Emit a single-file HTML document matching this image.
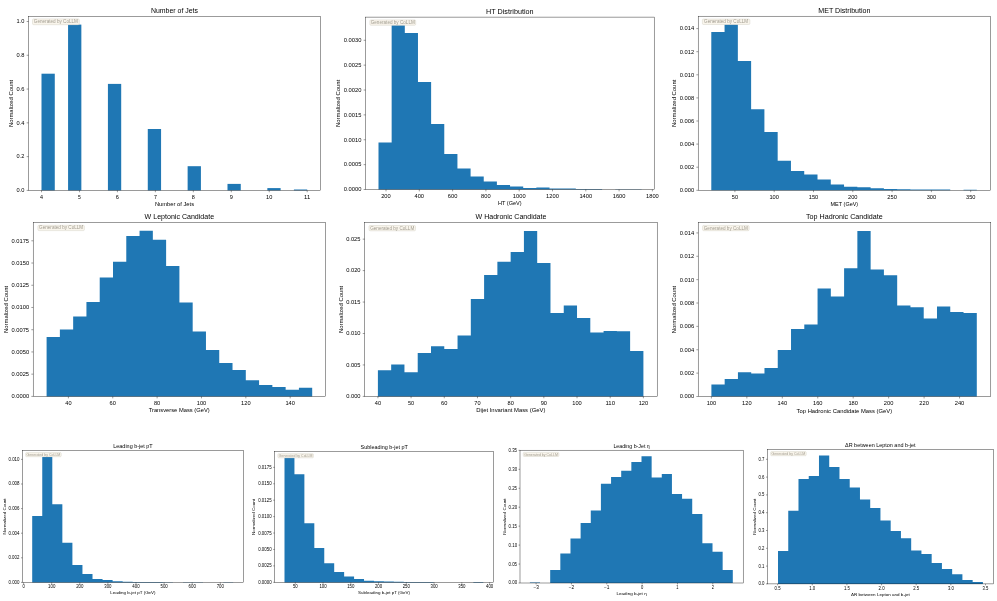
<!DOCTYPE html>
<html><head><meta charset="utf-8"><title>Histograms</title>
<style>html,body{margin:0;padding:0;background:#fff;}svg{display:block;}text{font-family:"Liberation Sans",sans-serif;}</style>
</head><body>
<svg width="997" height="601" viewBox="0 0 997 601">
<rect width="997" height="601" fill="#fff"/>
<rect x="41.50" y="73.70" width="13.28" height="116.70" fill="#1f77b4"/>
<rect x="68.07" y="24.60" width="13.28" height="165.80" fill="#1f77b4"/>
<rect x="107.92" y="83.90" width="13.28" height="106.50" fill="#1f77b4"/>
<rect x="147.78" y="129.00" width="13.29" height="61.40" fill="#1f77b4"/>
<rect x="187.63" y="166.20" width="13.29" height="24.20" fill="#1f77b4"/>
<rect x="227.49" y="183.90" width="13.28" height="6.50" fill="#1f77b4"/>
<rect x="267.34" y="188.10" width="13.29" height="2.30" fill="#1f77b4"/>
<rect x="293.91" y="189.50" width="13.29" height="0.90" fill="#1f77b4"/>
<rect x="32.50" y="18.90" width="46.80" height="5.80" rx="1.16" fill="#f9f5ec" stroke="#d3cfc5" stroke-width="0.45"/>
<rect x="28.50" y="16.50" width="292.00" height="173.90" fill="none" stroke="#111" stroke-width="0.42"/>
<path d="M41.50,190.40v1.85 M79.46,190.40v1.85 M117.41,190.40v1.85 M155.37,190.40v1.85 M193.33,190.40v1.85 M231.29,190.40v1.85 M269.24,190.40v1.85 M307.20,190.40v1.85 M28.50,190.40h-1.85 M28.50,156.62h-1.85 M28.50,122.84h-1.85 M28.50,89.06h-1.85 M28.50,55.28h-1.85 M28.50,21.50h-1.85" stroke="#111" stroke-width="0.42" fill="none"/>
<path d="M378.50,189.50 L378.50,142.40 L391.65,142.40 L391.65,25.30 L404.81,25.30 L404.81,33.00 L417.97,33.00 L417.97,82.00 L431.12,82.00 L431.12,124.00 L444.27,124.00 L444.27,154.00 L457.43,154.00 L457.43,168.60 L470.59,168.60 L470.59,176.60 L483.74,176.60 L483.74,181.60 L496.89,181.60 L496.89,185.00 L510.05,185.00 L510.05,186.50 L523.21,186.50 L523.21,188.10 L536.36,188.10 L536.36,187.60 L549.51,187.60 L549.51,188.60 L562.67,188.60 L562.67,188.60 L575.83,188.60 L575.83,189.00 L588.98,189.00 L588.98,189.10 L602.13,189.10 L602.13,189.50 L615.29,189.50 L615.29,189.20 L628.45,189.20 L628.45,189.20 L641.60,189.20 L641.60,189.50 Z" fill="#1f77b4"/>
<rect x="369.90" y="19.90" width="45.80" height="5.40" rx="1.08" fill="#f9f5ec" stroke="#d3cfc5" stroke-width="0.45"/>
<rect x="365.50" y="17.10" width="288.70" height="172.40" fill="none" stroke="#111" stroke-width="0.42"/>
<path d="M386.00,189.50v1.85 M419.30,189.50v1.85 M452.60,189.50v1.85 M485.90,189.50v1.85 M519.20,189.50v1.85 M552.50,189.50v1.85 M585.80,189.50v1.85 M619.10,189.50v1.85 M652.40,189.50v1.85 M365.50,189.50h-1.85 M365.50,164.63h-1.85 M365.50,139.76h-1.85 M365.50,114.89h-1.85 M365.50,90.02h-1.85 M365.50,65.15h-1.85 M365.50,40.28h-1.85" stroke="#111" stroke-width="0.42" fill="none"/>
<path d="M711.30,190.30 L711.30,32.00 L724.57,32.00 L724.57,24.60 L737.85,24.60 L737.85,61.10 L751.12,61.10 L751.12,109.20 L764.40,109.20 L764.40,132.00 L777.67,132.00 L777.67,160.70 L790.95,160.70 L790.95,171.00 L804.22,171.00 L804.22,174.50 L817.50,174.50 L817.50,179.50 L830.77,179.50 L830.77,184.50 L844.05,184.50 L844.05,186.70 L857.32,186.70 L857.32,187.20 L870.60,187.20 L870.60,188.30 L883.88,188.30 L883.88,189.00 L897.15,189.00 L897.15,189.30 L910.42,189.30 L910.42,189.50 L923.70,189.50 L923.70,189.50 L936.97,189.50 L936.97,189.60 L950.25,189.60 L950.25,190.30 L963.52,190.30 L963.52,189.70 L976.80,189.70 L976.80,190.30 Z" fill="#1f77b4"/>
<rect x="702.40" y="19.10" width="47.50" height="5.40" rx="1.08" fill="#f9f5ec" stroke="#d3cfc5" stroke-width="0.45"/>
<rect x="698.20" y="16.20" width="292.40" height="174.10" fill="none" stroke="#111" stroke-width="0.42"/>
<path d="M734.90,190.30v1.85 M774.20,190.30v1.85 M813.50,190.30v1.85 M852.80,190.30v1.85 M892.10,190.30v1.85 M931.40,190.30v1.85 M970.70,190.30v1.85 M698.20,190.30h-1.85 M698.20,167.20h-1.85 M698.20,144.10h-1.85 M698.20,121.00h-1.85 M698.20,97.90h-1.85 M698.20,74.80h-1.85 M698.20,51.70h-1.85 M698.20,28.60h-1.85" stroke="#111" stroke-width="0.42" fill="none"/>
<path d="M46.60,396.50 L46.60,337.10 L59.88,337.10 L59.88,329.60 L73.16,329.60 L73.16,316.40 L86.44,316.40 L86.44,302.10 L99.72,302.10 L99.72,277.50 L113.00,277.50 L113.00,261.70 L126.28,261.70 L126.28,236.10 L139.56,236.10 L139.56,230.80 L152.84,230.80 L152.84,239.80 L166.12,239.80 L166.12,265.90 L179.40,265.90 L179.40,302.60 L192.68,302.60 L192.68,331.60 L205.96,331.60 L205.96,349.90 L219.24,349.90 L219.24,362.90 L232.52,362.90 L232.52,369.90 L245.80,369.90 L245.80,380.30 L259.08,380.30 L259.08,384.90 L272.36,384.90 L272.36,386.90 L285.64,386.90 L285.64,389.70 L298.92,389.70 L298.92,387.70 L312.20,387.70 L312.20,396.50 Z" fill="#1f77b4"/>
<rect x="37.90" y="225.30" width="46.50" height="5.30" rx="1.06" fill="#f9f5ec" stroke="#d3cfc5" stroke-width="0.45"/>
<rect x="33.20" y="222.30" width="292.20" height="174.20" fill="none" stroke="#111" stroke-width="0.42"/>
<path d="M68.40,396.50v1.85 M112.76,396.50v1.85 M157.12,396.50v1.85 M201.48,396.50v1.85 M245.84,396.50v1.85 M290.20,396.50v1.85 M33.20,396.40h-1.85 M33.20,374.17h-1.85 M33.20,351.94h-1.85 M33.20,329.71h-1.85 M33.20,307.48h-1.85 M33.20,285.25h-1.85 M33.20,263.02h-1.85 M33.20,240.79h-1.85" stroke="#111" stroke-width="0.42" fill="none"/>
<path d="M377.90,396.40 L377.90,370.20 L391.17,370.20 L391.17,364.50 L404.45,364.50 L404.45,372.20 L417.72,372.20 L417.72,353.00 L431.00,353.00 L431.00,346.20 L444.27,346.20 L444.27,349.00 L457.55,349.00 L457.55,335.60 L470.82,335.60 L470.82,299.00 L484.10,299.00 L484.10,275.10 L497.38,275.10 L497.38,261.70 L510.65,261.70 L510.65,252.00 L523.92,252.00 L523.92,231.00 L537.20,231.00 L537.20,263.00 L550.48,263.00 L550.48,313.00 L563.75,313.00 L563.75,305.50 L577.02,305.50 L577.02,317.90 L590.30,317.90 L590.30,332.50 L603.58,332.50 L603.58,330.90 L616.85,330.90 L616.85,331.30 L630.12,331.30 L630.12,350.90 L643.40,350.90 L643.40,396.40 Z" fill="#1f77b4"/>
<rect x="369.00" y="225.50" width="46.50" height="5.30" rx="1.06" fill="#f9f5ec" stroke="#d3cfc5" stroke-width="0.45"/>
<rect x="364.60" y="222.50" width="292.60" height="173.90" fill="none" stroke="#111" stroke-width="0.42"/>
<path d="M377.90,396.40v1.85 M411.09,396.40v1.85 M444.27,396.40v1.85 M477.46,396.40v1.85 M510.65,396.40v1.85 M543.84,396.40v1.85 M577.02,396.40v1.85 M610.21,396.40v1.85 M643.40,396.40v1.85 M364.60,396.40h-1.85 M364.60,364.95h-1.85 M364.60,333.50h-1.85 M364.60,302.05h-1.85 M364.60,270.60h-1.85 M364.60,239.15h-1.85" stroke="#111" stroke-width="0.42" fill="none"/>
<path d="M711.40,396.60 L711.40,384.50 L724.67,384.50 L724.67,378.90 L737.94,378.90 L737.94,372.30 L751.21,372.30 L751.21,373.50 L764.48,373.50 L764.48,367.90 L777.75,367.90 L777.75,349.90 L791.02,349.90 L791.02,329.00 L804.29,329.00 L804.29,324.40 L817.56,324.40 L817.56,288.40 L830.83,288.40 L830.83,296.50 L844.10,296.50 L844.10,268.30 L857.37,268.30 L857.37,231.00 L870.64,231.00 L870.64,269.50 L883.91,269.50 L883.91,275.30 L897.18,275.30 L897.18,305.50 L910.45,305.50 L910.45,307.30 L923.72,307.30 L923.72,318.50 L936.99,318.50 L936.99,306.50 L950.26,306.50 L950.26,311.90 L963.53,311.90 L963.53,313.10 L976.80,313.10 L976.80,396.60 Z" fill="#1f77b4"/>
<rect x="702.60" y="225.40" width="46.50" height="5.30" rx="1.06" fill="#f9f5ec" stroke="#d3cfc5" stroke-width="0.45"/>
<rect x="698.20" y="222.40" width="292.60" height="174.20" fill="none" stroke="#111" stroke-width="0.42"/>
<path d="M711.40,396.60v1.85 M746.85,396.60v1.85 M782.30,396.60v1.85 M817.75,396.60v1.85 M853.20,396.60v1.85 M888.65,396.60v1.85 M924.10,396.60v1.85 M959.55,396.60v1.85 M698.20,396.50h-1.85 M698.20,373.13h-1.85 M698.20,349.76h-1.85 M698.20,326.39h-1.85 M698.20,303.02h-1.85 M698.20,279.65h-1.85 M698.20,256.28h-1.85 M698.20,232.91h-1.85" stroke="#111" stroke-width="0.42" fill="none"/>
<path d="M32.20,582.50 L32.20,516.00 L42.25,516.00 L42.25,456.90 L52.30,456.90 L52.30,504.20 L62.35,504.20 L62.35,542.80 L72.40,542.80 L72.40,565.00 L82.45,565.00 L82.45,574.10 L92.50,574.10 L92.50,578.90 L102.55,578.90 L102.55,580.10 L112.60,580.10 L112.60,581.30 L122.65,581.30 L122.65,581.80 L132.70,581.80 L132.70,581.90 L142.75,581.90 L142.75,582.00 L152.80,582.00 L152.80,582.10 L162.85,582.10 L162.85,582.20 L172.90,582.20 L172.90,582.50 L182.95,582.50 L182.95,582.20 L193.00,582.20 L193.00,582.30 L203.05,582.30 L203.05,582.50 L213.10,582.50 L213.10,582.50 L223.15,582.50 L223.15,582.30 L233.20,582.30 L233.20,582.50 Z" fill="#1f77b4"/>
<rect x="25.70" y="452.60" width="35.50" height="4.10" rx="0.82" fill="#f9f5ec" stroke="#d3cfc5" stroke-width="0.45"/>
<rect x="22.40" y="450.40" width="221.00" height="132.10" fill="none" stroke="#111" stroke-width="0.42"/>
<path d="M23.60,582.50v1.41 M51.70,582.50v1.41 M79.80,582.50v1.41 M107.90,582.50v1.41 M136.00,582.50v1.41 M164.10,582.50v1.41 M192.20,582.50v1.41 M220.30,582.50v1.41 M22.40,582.40h-1.41 M22.40,557.80h-1.41 M22.40,533.20h-1.41 M22.40,508.60h-1.41 M22.40,484.00h-1.41 M22.40,459.40h-1.41" stroke="#111" stroke-width="0.42" fill="none"/>
<path d="M284.50,582.40 L284.50,457.70 L294.44,457.70 L294.44,474.30 L304.38,474.30 L304.38,523.20 L314.32,523.20 L314.32,547.90 L324.26,547.90 L324.26,563.20 L334.20,563.20 L334.20,571.90 L344.14,571.90 L344.14,576.60 L354.08,576.60 L354.08,579.00 L364.02,579.00 L364.02,580.70 L373.96,580.70 L373.96,581.20 L383.90,581.20 L383.90,581.50 L393.84,581.50 L393.84,581.80 L403.78,581.80 L403.78,581.90 L413.72,581.90 L413.72,582.00 L423.66,582.00 L423.66,582.10 L433.60,582.10 L433.60,582.40 L443.54,582.40 L443.54,582.40 L453.48,582.40 L453.48,582.40 L463.42,582.40 L463.42,582.40 L473.36,582.40 L473.36,582.10 L483.30,582.10 L483.30,582.40 Z" fill="#1f77b4"/>
<rect x="277.90" y="453.70" width="35.50" height="4.10" rx="0.82" fill="#f9f5ec" stroke="#d3cfc5" stroke-width="0.45"/>
<rect x="274.60" y="451.50" width="219.00" height="130.90" fill="none" stroke="#111" stroke-width="0.42"/>
<path d="M295.30,582.40v1.41 M323.06,582.40v1.41 M350.81,582.40v1.41 M378.57,582.40v1.41 M406.33,582.40v1.41 M434.09,582.40v1.41 M461.84,582.40v1.41 M489.60,582.40v1.41 M274.60,582.30h-1.41 M274.60,565.88h-1.41 M274.60,549.46h-1.41 M274.60,533.04h-1.41 M274.60,516.62h-1.41 M274.60,500.20h-1.41 M274.60,483.78h-1.41 M274.60,467.36h-1.41" stroke="#111" stroke-width="0.42" fill="none"/>
<path d="M529.90,583.00 L529.90,582.50 L540.04,582.50 L540.04,583.00 L550.19,583.00 L550.19,570.10 L560.33,570.10 L560.33,553.40 L570.48,553.40 L570.48,538.50 L580.62,538.50 L580.62,523.00 L590.77,523.00 L590.77,510.60 L600.91,510.60 L600.91,483.80 L611.06,483.80 L611.06,477.10 L621.20,477.10 L621.20,470.80 L631.35,470.80 L631.35,462.10 L641.50,462.10 L641.50,456.30 L651.64,456.30 L651.64,477.40 L661.78,477.40 L661.78,474.10 L671.93,474.10 L671.93,494.10 L682.07,494.10 L682.07,498.70 L692.22,498.70 L692.22,514.00 L702.37,514.00 L702.37,543.20 L712.51,543.20 L712.51,551.80 L722.65,551.80 L722.65,570.10 L732.80,570.10 L732.80,583.00 Z" fill="#1f77b4"/>
<rect x="523.30" y="452.40" width="35.50" height="4.10" rx="0.82" fill="#f9f5ec" stroke="#d3cfc5" stroke-width="0.45"/>
<rect x="520.00" y="450.20" width="223.20" height="132.80" fill="none" stroke="#111" stroke-width="0.42"/>
<path d="M536.10,583.00v1.41 M571.44,583.00v1.41 M606.78,583.00v1.41 M642.12,583.00v1.41 M677.46,583.00v1.41 M712.80,583.00v1.41 M520.00,583.00h-1.41 M520.00,564.05h-1.41 M520.00,545.10h-1.41 M520.00,526.15h-1.41 M520.00,507.20h-1.41 M520.00,488.25h-1.41 M520.00,469.30h-1.41 M520.00,450.35h-1.41" stroke="#111" stroke-width="0.42" fill="none"/>
<path d="M778.00,583.90 L778.00,550.90 L788.25,550.90 L788.25,510.80 L798.49,510.80 L798.49,479.00 L808.74,479.00 L808.74,475.90 L818.98,475.90 L818.98,455.60 L829.23,455.60 L829.23,467.00 L839.47,467.00 L839.47,479.00 L849.72,479.00 L849.72,487.50 L859.96,487.50 L859.96,499.60 L870.21,499.60 L870.21,507.90 L880.45,507.90 L880.45,520.40 L890.69,520.40 L890.69,530.90 L900.94,530.90 L900.94,538.30 L911.18,538.30 L911.18,550.40 L921.43,550.40 L921.43,553.90 L931.67,553.90 L931.67,563.00 L941.92,563.00 L941.92,569.00 L952.16,569.00 L952.16,574.30 L962.41,574.30 L962.41,579.90 L972.65,579.90 L972.65,581.90 L982.90,581.90 L982.90,583.90 Z" fill="#1f77b4"/>
<rect x="770.70" y="451.60" width="35.50" height="4.10" rx="0.82" fill="#f9f5ec" stroke="#d3cfc5" stroke-width="0.45"/>
<rect x="767.40" y="449.40" width="226.00" height="134.50" fill="none" stroke="#111" stroke-width="0.42"/>
<path d="M777.60,583.90v1.41 M812.25,583.90v1.41 M846.90,583.90v1.41 M881.55,583.90v1.41 M916.20,583.90v1.41 M950.85,583.90v1.41 M985.50,583.90v1.41 M767.40,583.90h-1.41 M767.40,566.10h-1.41 M767.40,548.30h-1.41 M767.40,530.50h-1.41 M767.40,512.70h-1.41 M767.40,494.90h-1.41 M767.40,477.10h-1.41 M767.40,459.30h-1.41" stroke="#111" stroke-width="0.42" fill="none"/>
<g style="will-change:transform">
<text x="33.83" y="23.32" font-size="4.45" textLength="44.10" lengthAdjust="spacingAndGlyphs" fill="#a19c90" stroke="none">Generated by CoLLM</text>
<text x="40.00" y="198.61" font-size="5.79" textLength="3.00" lengthAdjust="spacingAndGlyphs" fill="#000">4</text>
<text x="78.02" y="198.61" font-size="5.79" textLength="2.83" lengthAdjust="spacingAndGlyphs" fill="#000">5</text>
<text x="115.86" y="198.61" font-size="5.79" textLength="3.11" lengthAdjust="spacingAndGlyphs" fill="#000">6</text>
<text x="153.89" y="198.61" font-size="5.79" textLength="2.94" lengthAdjust="spacingAndGlyphs" fill="#000">7</text>
<text x="191.81" y="198.61" font-size="5.79" textLength="3.03" lengthAdjust="spacingAndGlyphs" fill="#000">8</text>
<text x="229.72" y="198.61" font-size="5.79" textLength="3.10" lengthAdjust="spacingAndGlyphs" fill="#000">9</text>
<text x="266.12" y="198.61" font-size="5.79" textLength="6.26" lengthAdjust="spacingAndGlyphs" fill="#000">10</text>
<text x="304.08" y="198.61" font-size="5.79" textLength="6.17" lengthAdjust="spacingAndGlyphs" fill="#000">11</text>
<text x="16.57" y="192.25" font-size="5.79" textLength="7.91" lengthAdjust="spacingAndGlyphs" fill="#000">0.0</text>
<text x="16.57" y="158.47" font-size="5.79" textLength="7.79" lengthAdjust="spacingAndGlyphs" fill="#000">0.2</text>
<text x="16.57" y="124.69" font-size="5.79" textLength="7.91" lengthAdjust="spacingAndGlyphs" fill="#000">0.4</text>
<text x="16.57" y="90.91" font-size="5.79" textLength="7.96" lengthAdjust="spacingAndGlyphs" fill="#000">0.6</text>
<text x="16.57" y="57.13" font-size="5.79" textLength="7.92" lengthAdjust="spacingAndGlyphs" fill="#000">0.8</text>
<text x="16.58" y="23.35" font-size="5.79" textLength="7.89" lengthAdjust="spacingAndGlyphs" fill="#000">1.0</text>
<text x="150.99" y="13.33" font-size="6.68" textLength="47.01" lengthAdjust="spacingAndGlyphs" fill="#000">Number of Jets</text>
<text x="154.91" y="206.33" font-size="5.57" textLength="39.17" lengthAdjust="spacingAndGlyphs" fill="#000">Number of Jets</text>
<text x="-10.45" y="103.45" font-size="5.57" textLength="47.26" lengthAdjust="spacingAndGlyphs" fill="#000" transform="rotate(-90 13.20 103.45)">Normalized Count</text>
<text x="370.73" y="24.12" font-size="4.45" textLength="44.10" lengthAdjust="spacingAndGlyphs" fill="#a19c90" stroke="none">Generated by CoLLM</text>
<text x="381.20" y="197.71" font-size="5.79" textLength="9.57" lengthAdjust="spacingAndGlyphs" fill="#000">200</text>
<text x="414.53" y="197.71" font-size="5.79" textLength="9.54" lengthAdjust="spacingAndGlyphs" fill="#000">400</text>
<text x="447.78" y="197.71" font-size="5.79" textLength="9.59" lengthAdjust="spacingAndGlyphs" fill="#000">600</text>
<text x="481.11" y="197.71" font-size="5.79" textLength="9.56" lengthAdjust="spacingAndGlyphs" fill="#000">800</text>
<text x="512.81" y="197.71" font-size="5.79" textLength="12.79" lengthAdjust="spacingAndGlyphs" fill="#000">1000</text>
<text x="546.11" y="197.71" font-size="5.79" textLength="12.79" lengthAdjust="spacingAndGlyphs" fill="#000">1200</text>
<text x="579.41" y="197.71" font-size="5.79" textLength="12.79" lengthAdjust="spacingAndGlyphs" fill="#000">1400</text>
<text x="612.71" y="197.71" font-size="5.79" textLength="12.79" lengthAdjust="spacingAndGlyphs" fill="#000">1600</text>
<text x="646.01" y="197.71" font-size="5.79" textLength="12.79" lengthAdjust="spacingAndGlyphs" fill="#000">1800</text>
<text x="343.79" y="191.35" font-size="5.79" textLength="17.69" lengthAdjust="spacingAndGlyphs" fill="#000">0.0000</text>
<text x="343.79" y="166.48" font-size="5.79" textLength="17.59" lengthAdjust="spacingAndGlyphs" fill="#000">0.0005</text>
<text x="343.79" y="141.61" font-size="5.79" textLength="17.69" lengthAdjust="spacingAndGlyphs" fill="#000">0.0010</text>
<text x="343.79" y="116.74" font-size="5.79" textLength="17.59" lengthAdjust="spacingAndGlyphs" fill="#000">0.0015</text>
<text x="343.79" y="91.87" font-size="5.79" textLength="17.69" lengthAdjust="spacingAndGlyphs" fill="#000">0.0020</text>
<text x="343.79" y="67.00" font-size="5.79" textLength="17.59" lengthAdjust="spacingAndGlyphs" fill="#000">0.0025</text>
<text x="343.79" y="42.13" font-size="5.79" textLength="17.69" lengthAdjust="spacingAndGlyphs" fill="#000">0.0030</text>
<text x="486.09" y="13.93" font-size="6.68" textLength="47.49" lengthAdjust="spacingAndGlyphs" fill="#000">HT Distribution</text>
<text x="497.94" y="205.43" font-size="5.57" textLength="23.76" lengthAdjust="spacingAndGlyphs" fill="#000">HT (GeV)</text>
<text x="316.48" y="103.30" font-size="5.57" textLength="47.26" lengthAdjust="spacingAndGlyphs" fill="#000" transform="rotate(-90 340.13 103.30)">Normalized Count</text>
<text x="704.08" y="23.32" font-size="4.45" textLength="44.10" lengthAdjust="spacingAndGlyphs" fill="#a19c90" stroke="none">Generated by CoLLM</text>
<text x="731.81" y="198.51" font-size="5.79" textLength="6.22" lengthAdjust="spacingAndGlyphs" fill="#000">50</text>
<text x="769.45" y="198.51" font-size="5.79" textLength="9.53" lengthAdjust="spacingAndGlyphs" fill="#000">100</text>
<text x="808.75" y="198.51" font-size="5.79" textLength="9.53" lengthAdjust="spacingAndGlyphs" fill="#000">150</text>
<text x="848.00" y="198.51" font-size="5.79" textLength="9.57" lengthAdjust="spacingAndGlyphs" fill="#000">200</text>
<text x="887.30" y="198.51" font-size="5.79" textLength="9.57" lengthAdjust="spacingAndGlyphs" fill="#000">250</text>
<text x="926.69" y="198.51" font-size="5.79" textLength="9.48" lengthAdjust="spacingAndGlyphs" fill="#000">300</text>
<text x="965.99" y="198.51" font-size="5.79" textLength="9.48" lengthAdjust="spacingAndGlyphs" fill="#000">350</text>
<text x="679.75" y="192.15" font-size="5.79" textLength="14.43" lengthAdjust="spacingAndGlyphs" fill="#000">0.000</text>
<text x="679.75" y="169.05" font-size="5.79" textLength="14.32" lengthAdjust="spacingAndGlyphs" fill="#000">0.002</text>
<text x="679.75" y="145.95" font-size="5.79" textLength="14.43" lengthAdjust="spacingAndGlyphs" fill="#000">0.004</text>
<text x="679.75" y="122.85" font-size="5.79" textLength="14.48" lengthAdjust="spacingAndGlyphs" fill="#000">0.006</text>
<text x="679.75" y="99.75" font-size="5.79" textLength="14.44" lengthAdjust="spacingAndGlyphs" fill="#000">0.008</text>
<text x="679.75" y="76.65" font-size="5.79" textLength="14.43" lengthAdjust="spacingAndGlyphs" fill="#000">0.010</text>
<text x="679.75" y="53.55" font-size="5.79" textLength="14.32" lengthAdjust="spacingAndGlyphs" fill="#000">0.012</text>
<text x="679.75" y="30.45" font-size="5.79" textLength="14.43" lengthAdjust="spacingAndGlyphs" fill="#000">0.014</text>
<text x="818.29" y="13.03" font-size="6.68" textLength="52.17" lengthAdjust="spacingAndGlyphs" fill="#000">MET Distribution</text>
<text x="830.54" y="206.23" font-size="5.57" textLength="27.67" lengthAdjust="spacingAndGlyphs" fill="#000">MET (GeV)</text>
<text x="652.53" y="103.25" font-size="5.57" textLength="47.26" lengthAdjust="spacingAndGlyphs" fill="#000" transform="rotate(-90 676.19 103.25)">Normalized Count</text>
<text x="39.08" y="229.47" font-size="4.45" textLength="44.10" lengthAdjust="spacingAndGlyphs" fill="#a19c90" stroke="none">Generated by CoLLM</text>
<text x="65.26" y="404.71" font-size="5.79" textLength="6.27" lengthAdjust="spacingAndGlyphs" fill="#000">40</text>
<text x="109.57" y="404.71" font-size="5.79" textLength="6.33" lengthAdjust="spacingAndGlyphs" fill="#000">60</text>
<text x="153.96" y="404.71" font-size="5.79" textLength="6.29" lengthAdjust="spacingAndGlyphs" fill="#000">80</text>
<text x="196.73" y="404.71" font-size="5.79" textLength="9.53" lengthAdjust="spacingAndGlyphs" fill="#000">100</text>
<text x="241.09" y="404.71" font-size="5.79" textLength="9.53" lengthAdjust="spacingAndGlyphs" fill="#000">120</text>
<text x="285.45" y="404.71" font-size="5.79" textLength="9.53" lengthAdjust="spacingAndGlyphs" fill="#000">140</text>
<text x="11.49" y="398.25" font-size="5.79" textLength="17.69" lengthAdjust="spacingAndGlyphs" fill="#000">0.0000</text>
<text x="11.49" y="376.02" font-size="5.79" textLength="17.59" lengthAdjust="spacingAndGlyphs" fill="#000">0.0025</text>
<text x="11.49" y="353.79" font-size="5.79" textLength="17.69" lengthAdjust="spacingAndGlyphs" fill="#000">0.0050</text>
<text x="11.49" y="331.56" font-size="5.79" textLength="17.59" lengthAdjust="spacingAndGlyphs" fill="#000">0.0075</text>
<text x="11.49" y="309.33" font-size="5.79" textLength="17.69" lengthAdjust="spacingAndGlyphs" fill="#000">0.0100</text>
<text x="11.49" y="287.10" font-size="5.79" textLength="17.59" lengthAdjust="spacingAndGlyphs" fill="#000">0.0125</text>
<text x="11.49" y="264.87" font-size="5.79" textLength="17.69" lengthAdjust="spacingAndGlyphs" fill="#000">0.0150</text>
<text x="11.49" y="242.64" font-size="5.79" textLength="17.59" lengthAdjust="spacingAndGlyphs" fill="#000">0.0175</text>
<text x="144.62" y="219.13" font-size="6.68" textLength="69.52" lengthAdjust="spacingAndGlyphs" fill="#000">W Leptonic Candidate</text>
<text x="148.67" y="412.43" font-size="5.57" textLength="61.02" lengthAdjust="spacingAndGlyphs" fill="#000">Transverse Mass (GeV)</text>
<text x="-15.82" y="309.40" font-size="5.57" textLength="47.26" lengthAdjust="spacingAndGlyphs" fill="#000" transform="rotate(-90 7.83 309.40)">Normalized Count</text>
<text x="370.18" y="229.67" font-size="4.45" textLength="44.10" lengthAdjust="spacingAndGlyphs" fill="#a19c90" stroke="none">Generated by CoLLM</text>
<text x="374.76" y="404.61" font-size="5.79" textLength="6.27" lengthAdjust="spacingAndGlyphs" fill="#000">40</text>
<text x="408.00" y="404.61" font-size="5.79" textLength="6.22" lengthAdjust="spacingAndGlyphs" fill="#000">50</text>
<text x="441.09" y="404.61" font-size="5.79" textLength="6.33" lengthAdjust="spacingAndGlyphs" fill="#000">60</text>
<text x="474.34" y="404.61" font-size="5.79" textLength="6.26" lengthAdjust="spacingAndGlyphs" fill="#000">70</text>
<text x="507.49" y="404.61" font-size="5.79" textLength="6.29" lengthAdjust="spacingAndGlyphs" fill="#000">80</text>
<text x="540.64" y="404.61" font-size="5.79" textLength="6.34" lengthAdjust="spacingAndGlyphs" fill="#000">90</text>
<text x="572.27" y="404.61" font-size="5.79" textLength="9.53" lengthAdjust="spacingAndGlyphs" fill="#000">100</text>
<text x="605.46" y="404.61" font-size="5.79" textLength="9.53" lengthAdjust="spacingAndGlyphs" fill="#000">110</text>
<text x="638.65" y="404.61" font-size="5.79" textLength="9.53" lengthAdjust="spacingAndGlyphs" fill="#000">120</text>
<text x="346.15" y="398.25" font-size="5.79" textLength="14.43" lengthAdjust="spacingAndGlyphs" fill="#000">0.000</text>
<text x="346.15" y="366.80" font-size="5.79" textLength="14.34" lengthAdjust="spacingAndGlyphs" fill="#000">0.005</text>
<text x="346.15" y="335.35" font-size="5.79" textLength="14.43" lengthAdjust="spacingAndGlyphs" fill="#000">0.010</text>
<text x="346.15" y="303.90" font-size="5.79" textLength="14.34" lengthAdjust="spacingAndGlyphs" fill="#000">0.015</text>
<text x="346.15" y="272.45" font-size="5.79" textLength="14.43" lengthAdjust="spacingAndGlyphs" fill="#000">0.020</text>
<text x="346.15" y="241.00" font-size="5.79" textLength="14.34" lengthAdjust="spacingAndGlyphs" fill="#000">0.025</text>
<text x="475.55" y="219.33" font-size="6.68" textLength="70.86" lengthAdjust="spacingAndGlyphs" fill="#000">W Hadronic Candidate</text>
<text x="476.31" y="412.33" font-size="5.57" textLength="69.12" lengthAdjust="spacingAndGlyphs" fill="#000">Dijet Invariant Mass (GeV)</text>
<text x="318.93" y="309.45" font-size="5.57" textLength="47.26" lengthAdjust="spacingAndGlyphs" fill="#000" transform="rotate(-90 342.59 309.45)">Normalized Count</text>
<text x="703.78" y="229.57" font-size="4.45" textLength="44.10" lengthAdjust="spacingAndGlyphs" fill="#a19c90" stroke="none">Generated by CoLLM</text>
<text x="706.65" y="404.81" font-size="5.79" textLength="9.53" lengthAdjust="spacingAndGlyphs" fill="#000">100</text>
<text x="742.10" y="404.81" font-size="5.79" textLength="9.53" lengthAdjust="spacingAndGlyphs" fill="#000">120</text>
<text x="777.55" y="404.81" font-size="5.79" textLength="9.53" lengthAdjust="spacingAndGlyphs" fill="#000">140</text>
<text x="813.00" y="404.81" font-size="5.79" textLength="9.53" lengthAdjust="spacingAndGlyphs" fill="#000">160</text>
<text x="848.45" y="404.81" font-size="5.79" textLength="9.53" lengthAdjust="spacingAndGlyphs" fill="#000">180</text>
<text x="883.85" y="404.81" font-size="5.79" textLength="9.57" lengthAdjust="spacingAndGlyphs" fill="#000">200</text>
<text x="919.30" y="404.81" font-size="5.79" textLength="9.57" lengthAdjust="spacingAndGlyphs" fill="#000">220</text>
<text x="954.75" y="404.81" font-size="5.79" textLength="9.57" lengthAdjust="spacingAndGlyphs" fill="#000">240</text>
<text x="679.75" y="398.35" font-size="5.79" textLength="14.43" lengthAdjust="spacingAndGlyphs" fill="#000">0.000</text>
<text x="679.75" y="374.98" font-size="5.79" textLength="14.32" lengthAdjust="spacingAndGlyphs" fill="#000">0.002</text>
<text x="679.75" y="351.61" font-size="5.79" textLength="14.43" lengthAdjust="spacingAndGlyphs" fill="#000">0.004</text>
<text x="679.75" y="328.24" font-size="5.79" textLength="14.48" lengthAdjust="spacingAndGlyphs" fill="#000">0.006</text>
<text x="679.75" y="304.87" font-size="5.79" textLength="14.44" lengthAdjust="spacingAndGlyphs" fill="#000">0.008</text>
<text x="679.75" y="281.50" font-size="5.79" textLength="14.43" lengthAdjust="spacingAndGlyphs" fill="#000">0.010</text>
<text x="679.75" y="258.13" font-size="5.79" textLength="14.32" lengthAdjust="spacingAndGlyphs" fill="#000">0.012</text>
<text x="679.75" y="234.76" font-size="5.79" textLength="14.43" lengthAdjust="spacingAndGlyphs" fill="#000">0.014</text>
<text x="806.04" y="219.23" font-size="6.68" textLength="76.72" lengthAdjust="spacingAndGlyphs" fill="#000">Top Hadronic Candidate</text>
<text x="796.60" y="412.53" font-size="5.57" textLength="95.57" lengthAdjust="spacingAndGlyphs" fill="#000">Top Hadronic Candidate Mass (GeV)</text>
<text x="652.53" y="309.50" font-size="5.57" textLength="47.26" lengthAdjust="spacingAndGlyphs" fill="#000" transform="rotate(-90 676.19 309.50)">Normalized Count</text>
<text x="26.61" y="455.81" font-size="3.40" textLength="33.66" lengthAdjust="spacingAndGlyphs" fill="#a19c90" stroke="none">Generated by CoLLM</text>
<text x="22.45" y="588.48" font-size="4.42" textLength="2.29" lengthAdjust="spacingAndGlyphs" fill="#000">0</text>
<text x="48.07" y="588.48" font-size="4.42" textLength="7.27" lengthAdjust="spacingAndGlyphs" fill="#000">100</text>
<text x="76.14" y="588.48" font-size="4.42" textLength="7.30" lengthAdjust="spacingAndGlyphs" fill="#000">200</text>
<text x="104.30" y="588.48" font-size="4.42" textLength="7.23" lengthAdjust="spacingAndGlyphs" fill="#000">300</text>
<text x="132.36" y="588.48" font-size="4.42" textLength="7.28" lengthAdjust="spacingAndGlyphs" fill="#000">400</text>
<text x="160.50" y="588.48" font-size="4.42" textLength="7.24" lengthAdjust="spacingAndGlyphs" fill="#000">500</text>
<text x="188.52" y="588.48" font-size="4.42" textLength="7.32" lengthAdjust="spacingAndGlyphs" fill="#000">600</text>
<text x="216.67" y="588.48" font-size="4.42" textLength="7.27" lengthAdjust="spacingAndGlyphs" fill="#000">700</text>
<text x="8.47" y="583.89" font-size="4.42" textLength="11.01" lengthAdjust="spacingAndGlyphs" fill="#000">0.000</text>
<text x="8.47" y="559.29" font-size="4.42" textLength="10.93" lengthAdjust="spacingAndGlyphs" fill="#000">0.002</text>
<text x="8.47" y="534.69" font-size="4.42" textLength="11.01" lengthAdjust="spacingAndGlyphs" fill="#000">0.004</text>
<text x="8.47" y="510.09" font-size="4.42" textLength="11.05" lengthAdjust="spacingAndGlyphs" fill="#000">0.006</text>
<text x="8.47" y="485.49" font-size="4.42" textLength="11.02" lengthAdjust="spacingAndGlyphs" fill="#000">0.008</text>
<text x="8.47" y="460.89" font-size="4.42" textLength="11.01" lengthAdjust="spacingAndGlyphs" fill="#000">0.010</text>
<text x="113.28" y="447.98" font-size="5.10" textLength="39.40" lengthAdjust="spacingAndGlyphs" fill="#000">Leading b-jet pT</text>
<text x="110.17" y="594.39" font-size="4.25" textLength="45.42" lengthAdjust="spacingAndGlyphs" fill="#000">Leading b-jet pT (GeV)</text>
<text x="-12.45" y="516.45" font-size="4.25" textLength="36.06" lengthAdjust="spacingAndGlyphs" fill="#000" transform="rotate(-90 5.60 516.45)">Normalized Count</text>
<text x="278.81" y="456.91" font-size="3.40" textLength="33.66" lengthAdjust="spacingAndGlyphs" fill="#a19c90" stroke="none">Generated by CoLLM</text>
<text x="292.95" y="588.38" font-size="4.42" textLength="4.75" lengthAdjust="spacingAndGlyphs" fill="#000">50</text>
<text x="319.43" y="588.38" font-size="4.42" textLength="7.27" lengthAdjust="spacingAndGlyphs" fill="#000">100</text>
<text x="347.19" y="588.38" font-size="4.42" textLength="7.27" lengthAdjust="spacingAndGlyphs" fill="#000">150</text>
<text x="374.91" y="588.38" font-size="4.42" textLength="7.30" lengthAdjust="spacingAndGlyphs" fill="#000">200</text>
<text x="402.67" y="588.38" font-size="4.42" textLength="7.30" lengthAdjust="spacingAndGlyphs" fill="#000">250</text>
<text x="430.49" y="588.38" font-size="4.42" textLength="7.23" lengthAdjust="spacingAndGlyphs" fill="#000">300</text>
<text x="458.25" y="588.38" font-size="4.42" textLength="7.23" lengthAdjust="spacingAndGlyphs" fill="#000">350</text>
<text x="485.96" y="588.38" font-size="4.42" textLength="7.28" lengthAdjust="spacingAndGlyphs" fill="#000">400</text>
<text x="258.19" y="583.79" font-size="4.42" textLength="13.50" lengthAdjust="spacingAndGlyphs" fill="#000">0.0000</text>
<text x="258.19" y="567.37" font-size="4.42" textLength="13.43" lengthAdjust="spacingAndGlyphs" fill="#000">0.0025</text>
<text x="258.19" y="550.95" font-size="4.42" textLength="13.50" lengthAdjust="spacingAndGlyphs" fill="#000">0.0050</text>
<text x="258.19" y="534.53" font-size="4.42" textLength="13.43" lengthAdjust="spacingAndGlyphs" fill="#000">0.0075</text>
<text x="258.19" y="518.11" font-size="4.42" textLength="13.50" lengthAdjust="spacingAndGlyphs" fill="#000">0.0100</text>
<text x="258.19" y="501.69" font-size="4.42" textLength="13.43" lengthAdjust="spacingAndGlyphs" fill="#000">0.0125</text>
<text x="258.19" y="485.27" font-size="4.42" textLength="13.50" lengthAdjust="spacingAndGlyphs" fill="#000">0.0150</text>
<text x="258.19" y="468.85" font-size="4.42" textLength="13.43" lengthAdjust="spacingAndGlyphs" fill="#000">0.0175</text>
<text x="360.60" y="449.08" font-size="5.10" textLength="47.20" lengthAdjust="spacingAndGlyphs" fill="#000">Subleading b-jet pT</text>
<text x="358.13" y="594.29" font-size="4.25" textLength="51.93" lengthAdjust="spacingAndGlyphs" fill="#000">Subleading b-jet pT (GeV)</text>
<text x="237.19" y="516.95" font-size="4.25" textLength="36.06" lengthAdjust="spacingAndGlyphs" fill="#000" transform="rotate(-90 255.24 516.95)">Normalized Count</text>
<text x="524.21" y="455.61" font-size="3.40" textLength="33.66" lengthAdjust="spacingAndGlyphs" fill="#a19c90" stroke="none">Generated by CoLLM</text>
<text x="533.40" y="588.98" font-size="4.42" textLength="5.48" lengthAdjust="spacingAndGlyphs" fill="#000">−3</text>
<text x="568.74" y="588.98" font-size="4.42" textLength="5.43" lengthAdjust="spacingAndGlyphs" fill="#000">−2</text>
<text x="604.08" y="588.98" font-size="4.42" textLength="5.45" lengthAdjust="spacingAndGlyphs" fill="#000">−1</text>
<text x="640.97" y="588.98" font-size="4.42" textLength="2.29" lengthAdjust="spacingAndGlyphs" fill="#000">0</text>
<text x="676.35" y="588.98" font-size="4.42" textLength="2.19" lengthAdjust="spacingAndGlyphs" fill="#000">1</text>
<text x="711.64" y="588.98" font-size="4.42" textLength="2.21" lengthAdjust="spacingAndGlyphs" fill="#000">2</text>
<text x="508.56" y="584.49" font-size="4.42" textLength="8.52" lengthAdjust="spacingAndGlyphs" fill="#000">0.00</text>
<text x="508.56" y="565.54" font-size="4.42" textLength="8.45" lengthAdjust="spacingAndGlyphs" fill="#000">0.05</text>
<text x="508.56" y="546.59" font-size="4.42" textLength="8.52" lengthAdjust="spacingAndGlyphs" fill="#000">0.10</text>
<text x="508.56" y="527.64" font-size="4.42" textLength="8.45" lengthAdjust="spacingAndGlyphs" fill="#000">0.15</text>
<text x="508.56" y="508.69" font-size="4.42" textLength="8.52" lengthAdjust="spacingAndGlyphs" fill="#000">0.20</text>
<text x="508.56" y="489.74" font-size="4.42" textLength="8.45" lengthAdjust="spacingAndGlyphs" fill="#000">0.25</text>
<text x="508.56" y="470.79" font-size="4.42" textLength="8.52" lengthAdjust="spacingAndGlyphs" fill="#000">0.30</text>
<text x="508.56" y="451.84" font-size="4.42" textLength="8.45" lengthAdjust="spacingAndGlyphs" fill="#000">0.35</text>
<text x="613.44" y="447.78" font-size="5.10" textLength="36.30" lengthAdjust="spacingAndGlyphs" fill="#000">Leading b-Jet η</text>
<text x="616.48" y="594.89" font-size="4.25" textLength="30.21" lengthAdjust="spacingAndGlyphs" fill="#000">Leading b-jet η</text>
<text x="487.71" y="516.60" font-size="4.25" textLength="36.06" lengthAdjust="spacingAndGlyphs" fill="#000" transform="rotate(-90 505.76 516.60)">Normalized Count</text>
<text x="771.61" y="454.81" font-size="3.40" textLength="33.66" lengthAdjust="spacingAndGlyphs" fill="#a19c90" stroke="none">Generated by CoLLM</text>
<text x="774.58" y="589.88" font-size="4.42" textLength="5.96" lengthAdjust="spacingAndGlyphs" fill="#000">0.5</text>
<text x="809.25" y="589.88" font-size="4.42" textLength="6.02" lengthAdjust="spacingAndGlyphs" fill="#000">1.0</text>
<text x="843.90" y="589.88" font-size="4.42" textLength="5.95" lengthAdjust="spacingAndGlyphs" fill="#000">1.5</text>
<text x="878.51" y="589.88" font-size="4.42" textLength="6.06" lengthAdjust="spacingAndGlyphs" fill="#000">2.0</text>
<text x="913.16" y="589.88" font-size="4.42" textLength="5.98" lengthAdjust="spacingAndGlyphs" fill="#000">2.5</text>
<text x="947.88" y="589.88" font-size="4.42" textLength="5.99" lengthAdjust="spacingAndGlyphs" fill="#000">3.0</text>
<text x="982.53" y="589.88" font-size="4.42" textLength="5.91" lengthAdjust="spacingAndGlyphs" fill="#000">3.5</text>
<text x="758.45" y="585.39" font-size="4.42" textLength="6.04" lengthAdjust="spacingAndGlyphs" fill="#000">0.0</text>
<text x="758.45" y="567.59" font-size="4.42" textLength="5.97" lengthAdjust="spacingAndGlyphs" fill="#000">0.1</text>
<text x="758.45" y="549.79" font-size="4.42" textLength="5.95" lengthAdjust="spacingAndGlyphs" fill="#000">0.2</text>
<text x="758.45" y="531.99" font-size="4.42" textLength="6.00" lengthAdjust="spacingAndGlyphs" fill="#000">0.3</text>
<text x="758.45" y="514.19" font-size="4.42" textLength="6.03" lengthAdjust="spacingAndGlyphs" fill="#000">0.4</text>
<text x="758.45" y="496.39" font-size="4.42" textLength="5.96" lengthAdjust="spacingAndGlyphs" fill="#000">0.5</text>
<text x="758.45" y="478.59" font-size="4.42" textLength="6.07" lengthAdjust="spacingAndGlyphs" fill="#000">0.6</text>
<text x="758.45" y="460.79" font-size="4.42" textLength="6.01" lengthAdjust="spacingAndGlyphs" fill="#000">0.7</text>
<text x="845.04" y="446.98" font-size="5.10" textLength="70.53" lengthAdjust="spacingAndGlyphs" fill="#000">ΔR between Lepton and b-jet</text>
<text x="850.93" y="595.79" font-size="4.25" textLength="58.77" lengthAdjust="spacingAndGlyphs" fill="#000">ΔR between Lepton and b-jet</text>
<text x="737.68" y="516.65" font-size="4.25" textLength="36.06" lengthAdjust="spacingAndGlyphs" fill="#000" transform="rotate(-90 755.73 516.65)">Normalized Count</text>
</g>
</svg>
</body></html>
